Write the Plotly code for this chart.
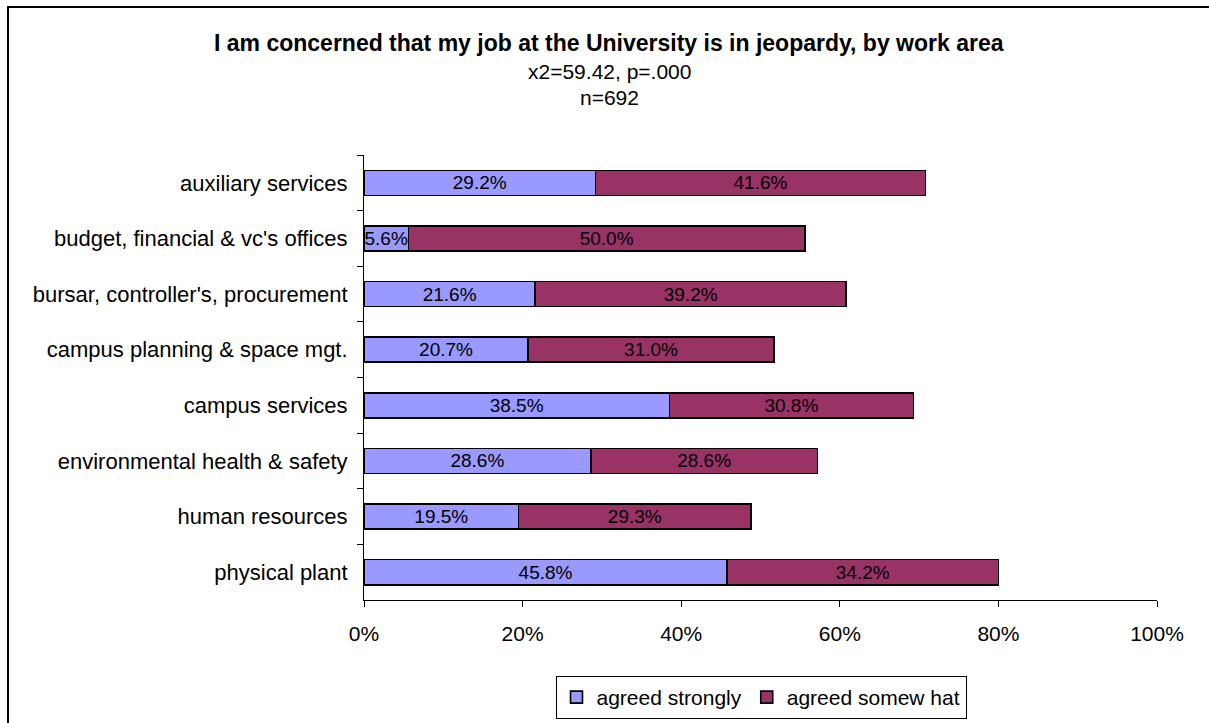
import plotly.graph_objects as go

# Survey results by work area (percent of respondents)
work_areas = [
    "auxiliary services",
    "budget, financial & vc's offices",
    "bursar, controller's, procurement",
    "campus planning & space mgt.",
    "campus services",
    "environmental health & safety",
    "human resources",
    "physical plant",
]
agreed_strongly = [29.2, 5.6, 21.6, 20.7, 38.5, 28.6, 19.5, 45.8]
agreed_somewhat = [41.6, 50.0, 39.2, 31.0, 30.8, 28.6, 29.3, 34.2]
x_ticks = [0, 20, 40, 60, 80, 100]

FONT = "Liberation Sans, Arial, sans-serif"
W, H = 1209, 723
L, R, T, B = 364, 52, 155, 123
pw, ph = W - L - R, H - T - B


def px_x(p):
    return (p - L) / pw


def px_y(p):
    return (H - B - p) / ph


fig = go.Figure()
series = [
    ("agreed strongly", agreed_strongly, "#9999FF"),
    ("agreed somew hat", agreed_somewhat, "#993366"),
]
for name, vals, color in series:
    fig.add_trace(go.Bar(
        y=work_areas,
        x=vals,
        name=name,
        orientation="h",
        width=0.45,
        marker=dict(color=color, line=dict(color="black", width=1.6)),
        text=[f"{v:.1f}%" for v in vals],
        textposition="inside",
        insidetextanchor="middle",
        textangle=0,
        constraintext="none",
        textfont=dict(family=FONT, size=19, color="black"),
        hoverinfo="skip",
    ))

fig.update_layout(
    width=W,
    height=H,
    barmode="stack",
    plot_bgcolor="white",
    paper_bgcolor="white",
    margin=dict(l=L, r=R, t=T, b=B, autoexpand=False),
    font=dict(family=FONT, size=21, color="black"),
    showlegend=True,
    legend=dict(
        orientation="h",
        x=px_x(761), xanchor="center",
        y=px_y(676), yanchor="top",
        bordercolor="black", borderwidth=1,
        font=dict(family=FONT, size=21, color="black"),
        traceorder="normal",
        itemwidth=30,
    ),
    bargap=0.55,
)

fig.update_xaxes(
    range=[0, 100],
    tickvals=x_ticks,
    ticktext=[f"{v}%" for v in x_ticks],
    showgrid=False,
    zeroline=False,
    showline=True, linecolor="black", linewidth=1,
    ticks="outside", ticklen=6, tickcolor="black",
    ticklabelstandoff=9,
    tickfont=dict(family=FONT, size=21, color="black"),
    fixedrange=True,
)
fig.update_yaxes(
    categoryorder="array",
    categoryarray=work_areas,
    autorange="reversed",
    showgrid=False,
    showline=True, linecolor="black", linewidth=1,
    ticks="outside", ticklen=6, tickcolor="black",
    tickson="boundaries",
    ticklabelstandoff=11,
    tickfont=dict(family=FONT, size=22, color="black"),
    fixedrange=True,
)

# Title block
title_lines = [
    ("<b>I am concerned that my job at the University is in jeopardy, by work area</b>", 43, 23),
    ("x2=59.42, p=.000", 71, 21),
    ("n=692", 98, 21),
]
for txt, ypx, size in title_lines:
    fig.add_annotation(
        text=txt, xref="paper", yref="paper",
        x=px_x(609), y=px_y(ypx), xanchor="center", yanchor="middle",
        showarrow=False, font=dict(family=FONT, size=size, color="black"),
    )

# Outer chart frame
fig.add_shape(
    type="rect", xref="paper", yref="paper",
    x0=px_x(8), x1=px_x(1220), y0=px_y(7), y1=px_y(740),
    line=dict(color="black", width=2), fillcolor="rgba(0,0,0,0)",
    layer="below",
)

fig.write_html("out.html")
